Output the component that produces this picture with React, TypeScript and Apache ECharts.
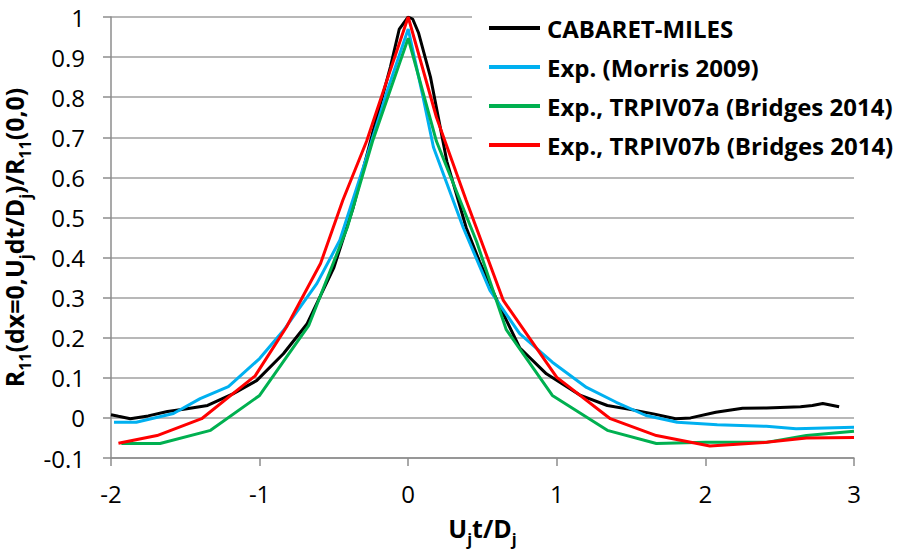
import React, { useEffect, useRef } from "react";
import * as echarts from "echarts";

const cabaretX = [-2.0, -1.95, -1.87, -1.75, -1.62, -1.5, -1.35, -1.18, -1.02, -0.84, -0.68, -0.5, -0.37, -0.24, -0.12, -0.06, 0.0, 0.03, 0.07, 0.15, 0.26, 0.39, 0.48, 0.62, 0.75, 0.93, 1.16, 1.34, 1.51, 1.65, 1.8, 1.9, 2.07, 2.25, 2.41, 2.64, 2.72, 2.79, 2.9];
const cabaretY = [0.008, 0.004, -0.002, 0.005, 0.016, 0.022, 0.031, 0.06, 0.093, 0.16, 0.235, 0.375, 0.525, 0.71, 0.875, 0.97, 1.0, 0.995, 0.96, 0.85, 0.64, 0.475, 0.39, 0.275, 0.175, 0.11, 0.056, 0.031, 0.02, 0.01, -0.002, 0.0, 0.014, 0.024, 0.025, 0.028, 0.031, 0.036, 0.028];

const morrisX = [-1.98, -1.83, -1.58, -1.4, -1.21, -1.0, -0.84, -0.615, -0.46, -0.28, -0.14, 0.0, 0.1, 0.17, 0.37, 0.55, 0.75, 0.97, 1.2, 1.4, 1.6, 1.81, 2.08, 2.41, 2.61, 3.0];
const morrisY = [-0.011, -0.011, 0.011, 0.048, 0.078, 0.148, 0.218, 0.335, 0.443, 0.65, 0.817, 0.97, 0.8, 0.675, 0.475, 0.318, 0.21, 0.139, 0.076, 0.039, 0.006, -0.011, -0.017, -0.021, -0.027, -0.023];

const trpivAX = [-1.93, -1.67, -1.33, -1.0, -0.67, -0.41, -0.24, 0.0, 0.19, 0.46, 0.66, 0.97, 1.34, 1.67, 2.0, 2.41, 2.68, 3.0];
const trpivAY = [-0.064, -0.064, -0.031, 0.056, 0.23, 0.475, 0.69, 0.947, 0.69, 0.44, 0.22, 0.056, -0.031, -0.064, -0.061, -0.061, -0.044, -0.033];

const trpivBX = [-1.95, -1.69, -1.39, -1.03, -0.82, -0.59, -0.44, -0.28, -0.145, 0.0, 0.19, 0.39, 0.64, 1.0, 1.36, 1.67, 2.03, 2.41, 2.68, 3.0];
const trpivBY = [-0.063, -0.044, -0.002, 0.105, 0.226, 0.385, 0.543, 0.69, 0.84, 1.0, 0.75, 0.543, 0.293, 0.101, -0.002, -0.044, -0.07, -0.061, -0.05, -0.049];

const seriesNames = [
  "CABARET-MILES",
  "Exp. (Morris 2009)",
  "Exp., TRPIV07a (Bridges 2014)",
  "Exp., TRPIV07b (Bridges 2014)",
];
const seriesColors = ["#000000", "#00b0f0", "#00b050", "#ff0000"];

const zip = (xs: number[], ys: number[]) => xs.map((x, i) => [x, ys[i]]);

export default function App() {
  const ref = useRef<HTMLDivElement>(null);
  useEffect(() => {
    if (!ref.current) return;
    const chart = echarts.init(ref.current, undefined, { renderer: "svg" });
    const font = "'Open Sans', Lato, sans-serif";
    const datasets = [
      zip(cabaretX, cabaretY),
      zip(morrisX, morrisY),
      zip(trpivAX, trpivAY),
      zip(trpivBX, trpivBY),
    ];
    const subStyle = { fontSize: 16, fontWeight: "bold", fontFamily: font, color: "#000", verticalAlign: "bottom", lineHeight: 15, padding: [0, 0, -4, 0] };
    const mainStyle = { fontSize: 25, fontWeight: "bold", fontFamily: font, color: "#000", lineHeight: 30 };
    chart.setOption({
      animation: false,
      backgroundColor: "#fff",
      grid: { left: 111, right: 49, top: 17, bottom: 91, containLabel: false, outerBoundsMode: "none" },
      legend: {
        orient: "vertical",
        left: 472,
        top: 5,
        padding: [10, 4, 10, 17],
        backgroundColor: "#fff",
        icon: "rect",
        itemWidth: 51,
        itemHeight: 4,
        itemGap: 13,
        data: seriesNames,
        textStyle: { fontSize: 24, fontWeight: "bold", fontFamily: font, color: "#000", lineHeight: 26, padding: [0, 0, 0, 2] },
      },
      xAxis: {
        type: "value",
        min: -2,
        max: 3,
        interval: 1,
        name: "{a|U}{s|j}{a|t/D}{s|j}",
        nameLocation: "middle",
        nameGap: 55,
        nameTextStyle: { rich: { a: mainStyle, s: subStyle } },
        axisLine: { show: true, onZero: false, lineStyle: { color: "#8c8c8c", width: 1.5 } },
        axisTick: { show: true, inside: false, length: 8, lineStyle: { color: "#8c8c8c", width: 1.5 } },
        axisLabel: { fontSize: 24, fontFamily: font, color: "#000", margin: 23 },
        splitLine: { show: false },
      },
      yAxis: {
        type: "value",
        min: -0.1,
        max: 1,
        interval: 0.1,
        name: "{a|R}{s|11}{a|(dx=0,U}{s|j}{a|dt/D}{s|j}{a|)/R}{s|11}{a|(0,0)}",
        nameLocation: "middle",
        nameGap: 71,
        nameRotate: 90,
        nameTextStyle: { rich: { a: mainStyle, s: subStyle } },
        axisLine: { show: true, onZero: false, lineStyle: { color: "#8c8c8c", width: 1.5 } },
        axisTick: { show: true, inside: false, length: 8, lineStyle: { color: "#8c8c8c", width: 1.5 } },
        axisLabel: {
          fontSize: 24,
          fontFamily: font,
          color: "#000",
          margin: 26,
          formatter: (v: number) => String(parseFloat(v.toFixed(1))),
        },
        splitLine: { show: true, lineStyle: { color: "#a0a0a0", width: 1.5 } },
      },
      series: datasets.map((d, i) => ({
        name: seriesNames[i],
        type: "line",
        data: d,
        showSymbol: false,
        symbol: "none",
        lineStyle: { color: seriesColors[i], width: 3 },
        itemStyle: { color: seriesColors[i] },
        z: i === 0 ? 1 : 2 + i,
      })),
    });
    return () => chart.dispose();
  }, []);
  return <div ref={ref} style={{ position: "fixed", left: 0, top: 0, width: 903, height: 549 }} />;
}
